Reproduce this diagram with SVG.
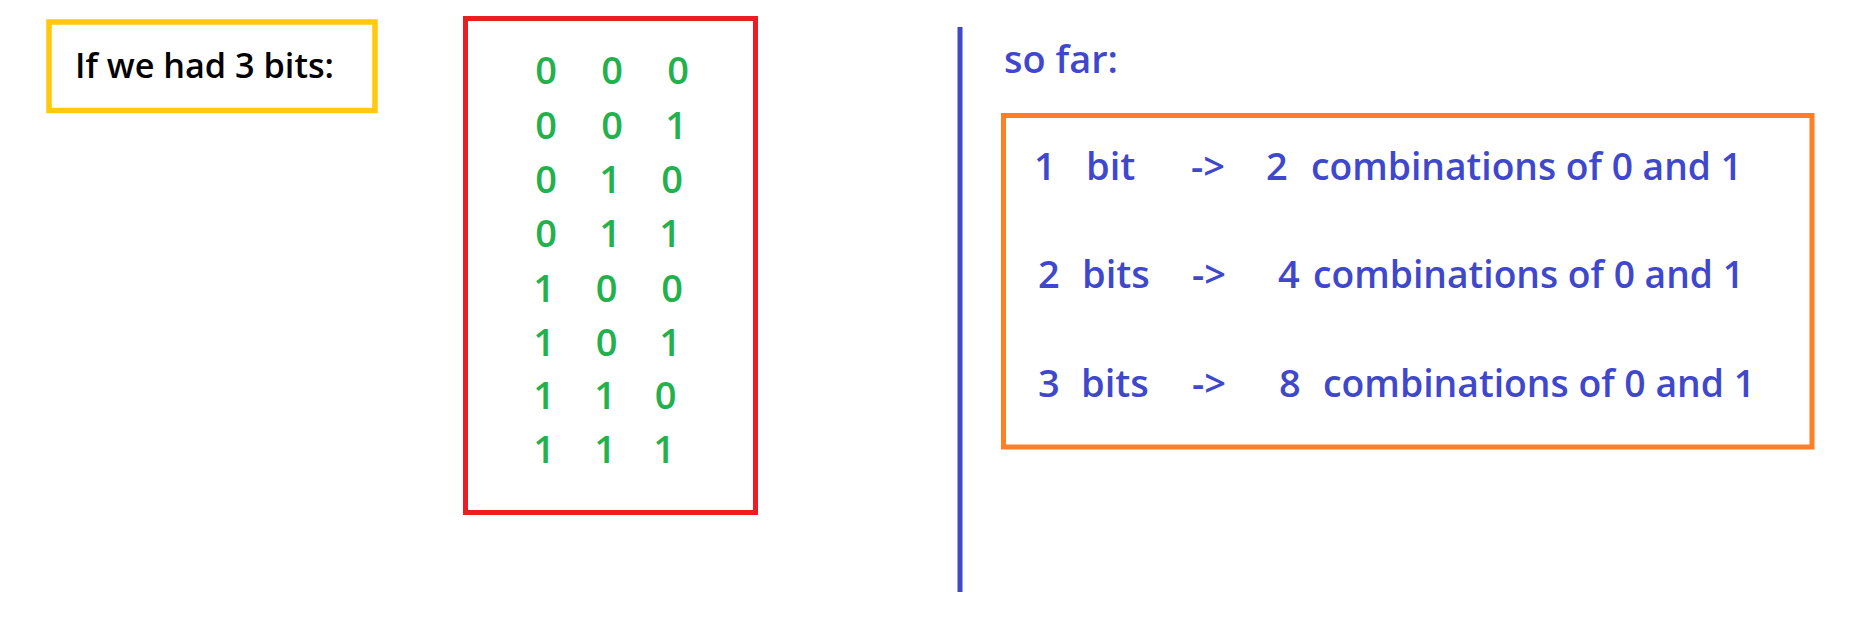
<svg xmlns="http://www.w3.org/2000/svg" width="1851" height="624" viewBox="0 0 1851 624">
<style>
.t{font-family:"Open Sans","Noto Sans","Liberation Sans",sans-serif;font-weight:600}
.g{font-size:38px;fill:#22b14c;text-anchor:middle}
.b{font-size:38px;fill:#3f48cc}
.box{fill:none}
</style>
<rect width="1851" height="624" fill="#ffffff"/>
<g id="title">
<rect class="box" x="49" y="22" width="326" height="88.5" stroke="#ffc90e" stroke-width="5.5"/>
<text class="t" x="75" y="78" font-size="35" fill="#000000" textLength="259" lengthAdjust="spacingAndGlyphs">If we had 3 bits:</text>
</g>
<g id="table">
<rect class="box" x="465.5" y="18.5" width="290" height="494" stroke="#ed1c24" stroke-width="5"/>
<text class="t g" x="546 612 678" y="84">000</text>
<text class="t g" x="546 612 676" y="139">001</text>
<text class="t g" x="546 610 672" y="193">010</text>
<text class="t g" x="546 610 670" y="247">011</text>
<text class="t g" x="544 606.5 672" y="301.5">100</text>
<text class="t g" x="544 606.5 670" y="355.5">101</text>
<text class="t g" x="544 605 665.5" y="409">110</text>
<text class="t g" x="544 605 664" y="463">111</text>
</g>
<g id="divider">
<line x1="960" y1="27" x2="960" y2="592" stroke="#3f48cc" stroke-width="5"/>
</g>
<g id="sofar">
<text class="t b" x="1004" y="73" textLength="114" lengthAdjust="spacingAndGlyphs">so far:</text>
</g>
<g id="summary">
<rect class="box" x="1003.5" y="115.5" width="808.5" height="331.5" stroke="#ff7f27" stroke-width="5"/>
<g class="t b">
<text x="1034" y="180">1</text>
<text x="1086" y="180">bit</text>
<text x="1191" y="180">-&gt;</text>
<text x="1266" y="180">2</text>
<text x="1311" y="180" textLength="431" lengthAdjust="spacingAndGlyphs">combinations of 0 and 1</text>
<text x="1038" y="288">2</text>
<text x="1082" y="288">bits</text>
<text x="1192" y="288">-&gt;</text>
<text x="1278" y="288">4</text>
<text x="1313" y="288" textLength="431" lengthAdjust="spacingAndGlyphs">combinations of 0 and 1</text>
<text x="1038" y="396.5">3</text>
<text x="1081" y="396.5">bits</text>
<text x="1192" y="396.5">-&gt;</text>
<text x="1279" y="396.5">8</text>
<text x="1323" y="396.5" textLength="432" lengthAdjust="spacingAndGlyphs">combinations of 0 and 1</text>
</g>
</g>
</svg>
